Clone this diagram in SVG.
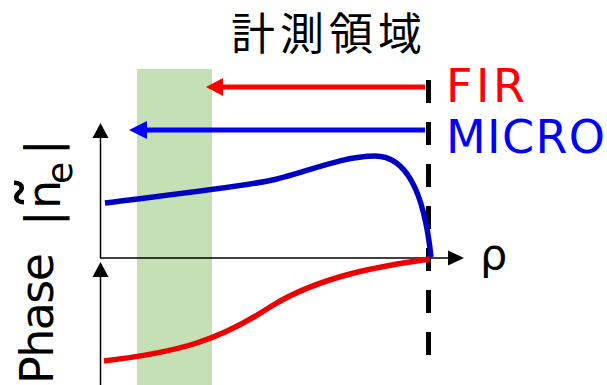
<svg xmlns="http://www.w3.org/2000/svg" width="607" height="385" viewBox="0 0 607 385">
<defs>
<style>
.lat{font-family:"DejaVu Sans","Verdana",sans-serif;}
.jp{font-family:"Noto Sans CJK JP","Noto Sans",sans-serif;}
.axis{stroke:#000;stroke-width:1.5;fill:none;}
.curve{fill:none;stroke-width:5.5;stroke-linecap:butt;}
</style>
</defs>
<rect width="607" height="385" fill="#fff"/>
<g id="region">
<rect x="137" y="69" width="75" height="316" fill="#C5E0B4"/>
</g>
<g id="title">
<text class="jp" x="231" y="50" font-size="44" textLength="191" fill="#000">計測領域</text>
</g>
<g id="axes">
<line class="axis" x1="100.5" y1="258" x2="100.5" y2="136"/>
<polygon points="100.5,123 92.5,138 108.5,138" fill="#000"/>
<line class="axis" x1="100" y1="258" x2="450" y2="258"/>
<polygon points="464,258 448,250.5 448,265.5" fill="#000"/>
<line class="axis" x1="100.5" y1="385" x2="100.5" y2="275"/>
<polygon points="100.5,262 92.5,277 108.5,277" fill="#000"/>
</g>
<g id="boundary">
<line x1="428.5" y1="80" x2="428.5" y2="356" stroke="#000" stroke-width="5" stroke-dasharray="23 19"/>
</g>
<g id="connectors">
<line x1="425" y1="87" x2="220" y2="87" stroke="#FF0000" stroke-width="5"/>
<polygon points="206,87 223,78 223,96" fill="#FF0000"/>
<line x1="425" y1="130" x2="144" y2="130" stroke="#0000FF" stroke-width="5"/>
<polygon points="129,130 147,121 147,139" fill="#0000FF"/>
</g>
<g id="curves">
<path class="curve" stroke="#0000C0" d="M105,203 C160,196 230,188 268,181 C300,175 340,156 375,156 C410,156 425,200 431,257"/>
<path class="curve" stroke="#EE0000" d="M104,361 C180,352 220,340 270,307 C320,276 380,266 430,259"/>
</g>
<g id="labels">
<text class="lat" x="446" y="102" font-size="46" fill="#FF0000" textLength="79">FIR</text>
<text class="lat" x="446" y="153" font-size="46" fill="#0000FF" textLength="159">MICRO</text>
<text class="lat" x="480" y="269" font-size="43" fill="#000">ρ</text>
</g>
<g id="ylabel" transform="rotate(-90)" class="lat" fill="#000">
<text x="-384" y="53" font-size="46" textLength="131">Phase</text>
<text x="-226" y="58" font-size="46">|</text>
<text x="-211" y="72" font-size="74">˜</text>
<text x="-209" y="60" font-size="46">n</text>
<text x="-184" y="72" font-size="36">e</text>
<text x="-155" y="58" font-size="46">|</text>
</g>
</svg>
